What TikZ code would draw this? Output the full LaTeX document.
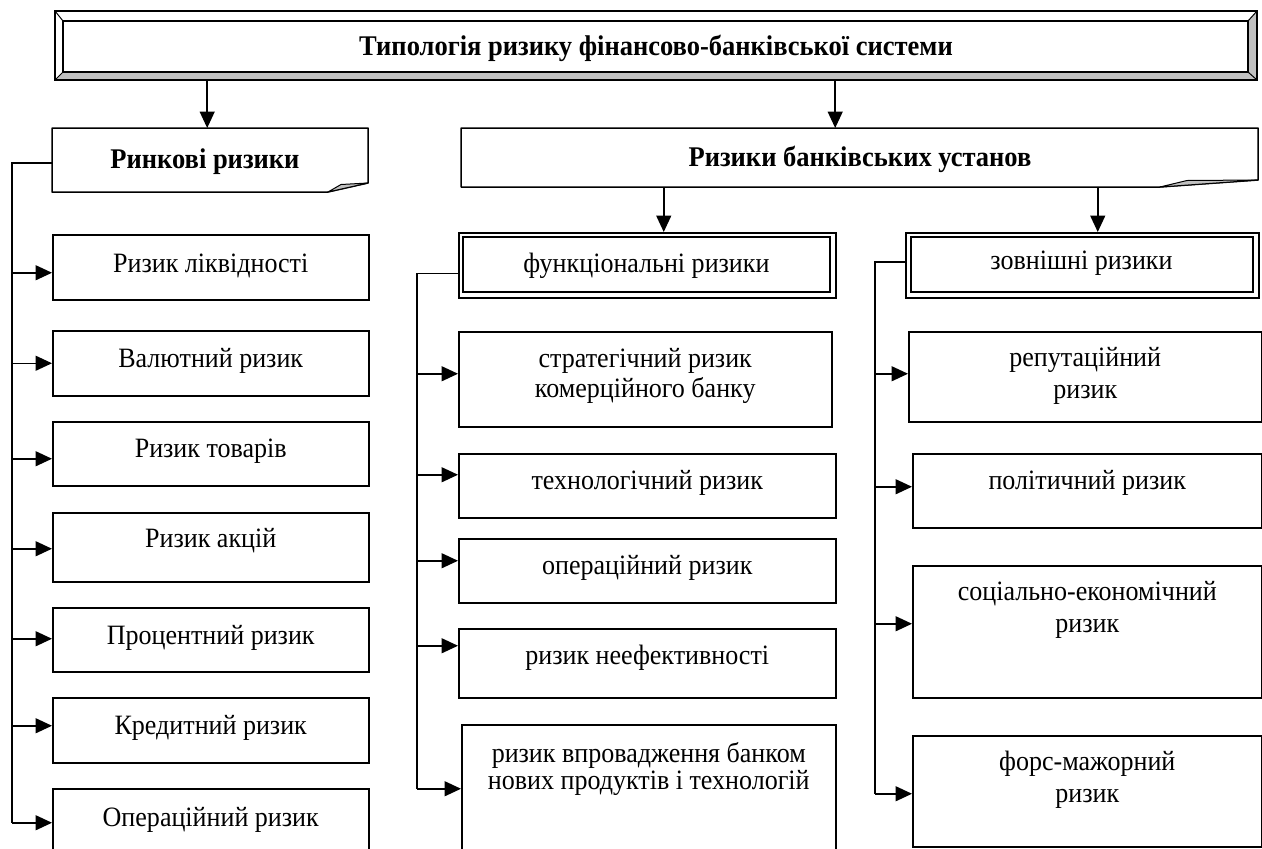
\documentclass[tikz,border=0pt]{standalone}
\usepackage{fontspec}
\setmainfont{Liberation Serif}[FakeStretch=0.93]
\usetikzlibrary{arrows.meta,calc}
\definecolor{bevel}{RGB}{192,192,192}
\begin{document}
\begin{tikzpicture}[x=1pt,y=-1pt,
  box/.style={draw, line width=1.5pt, rectangle, inner sep=0pt, anchor=north west},
  frame/.style={rectangle, inner sep=0pt, anchor=north west},
  txt/.style={font=\fontsize{28}{30}\selectfont, align=center, inner sep=0pt},
  btxt/.style={font=\fontsize{28.5}{32}\selectfont\bfseries, align=center, inner sep=0pt},
  ln/.style={line width=1.5pt},
  arr/.style={ln, -{Triangle[length=16.5pt,width=15pt]}},
  fold/.style={fill=bevel, draw, line width=1pt, line join=round}
]
\useasboundingbox (0,0) rectangle (1262,849);
\clip (0,0) rectangle (1262,849);

% ---------- title (bevelled box)
\node[frame, minimum width=1202pt, minimum height=69pt] (title) at (55,11) {};
\fill[bevel] (55,80) -- (1257,80) -- (1248,72) -- (63,72) -- cycle;
\fill[bevel] (1257,11) -- (1257,80) -- (1248,72) -- (1248,21) -- cycle;
\draw[ln] (55,11) rectangle (1257,80);
\draw[ln] (63,21) rectangle (1248,72);
\draw[line width=1pt] (55,11) -- (63,21) (1257,11) -- (1248,21) (55,80) -- (63,72) (1257,80) -- (1248,72);
\node[btxt] (title-t) at (656,48) {Типологія ризику фінансово-банківської системи};

% ---------- Ринкові ризики (dog-eared)
\node[frame, minimum width=316pt, minimum height=64pt] (rin) at (52,128) {};
\draw[ln, line join=round] (52,128) -- (368,128) -- (368,183) -- (328,192) -- (52,192) -- cycle;
\draw[fold] (328,192) -- (341,184.5) -- (368,183) -- cycle;
\node[btxt] (rin-t) at (205,162) {Ринкові ризики};

% ---------- Ризики банківських установ (dog-eared)
\node[frame, minimum width=797pt, minimum height=59pt] (bank) at (461,128) {};
\draw[ln, line join=round] (461,128) -- (1258,128) -- (1258,180) -- (1160,187) -- (461,187) -- cycle;
\draw[fold] (1160,187) -- (1187,180.5) -- (1258,180) -- cycle;
\node[btxt] (bank-t) at (860,159) {Ризики банківських установ};

% ---------- double-framed boxes
\node[box, minimum width=377pt, minimum height=65pt] (func) at (458,232) {};
\draw[line width=2.2pt] (463,237) rectangle (830,292);
\node[txt] (func-t) at (646.5,266) {функціональні ризики};

\node[box, minimum width=353pt, minimum height=65pt] (ext) at (905,232) {};
\draw[line width=2.2pt] (911,237) rectangle (1253,292);
\node[txt] (ext-t) at (1081.5,263) {зовнішні ризики};

% ---------- left column
\node[box, minimum width=316pt, minimum height=65pt] (r1) at (52,234) {};
\node[box, minimum width=316pt, minimum height=65pt] (r2) at (52,330) {};
\node[box, minimum width=316pt, minimum height=64pt] (r3) at (52,421) {};
\node[box, minimum width=316pt, minimum height=69pt] (r4) at (52,512) {};
\node[box, minimum width=316pt, minimum height=64pt] (r5) at (52,607) {};
\node[box, minimum width=316pt, minimum height=65pt] (r6) at (52,697) {};
\node[box, minimum width=316pt, minimum height=68pt] (r7) at (52,788) {};
\node[txt] (r1-t) at ([yshift=-32pt]r1.north) {Ризик ліквідності};
\node[txt] (r2-t) at ([yshift=-31pt]r2.north) {Валютний ризик};
\node[txt] (r3-t) at ([yshift=-30pt]r3.north) {Ризик товарів};
\node[txt] (r4-t) at ([yshift=-29pt]r4.north) {Ризик акцій};
\node[txt] (r5-t) at ([yshift=-31pt]r5.north) {Процентний ризик};
\node[txt] (r6-t) at ([yshift=-31pt]r6.north) {Кредитний ризик};
\node[txt] (r7-t) at ([yshift=-32pt]r7.north) {Операційний ризик};

% ---------- middle column
\node[box, minimum width=373pt, minimum height=95pt] (m1) at (458,331) {};
\node[box, minimum width=377pt, minimum height=64pt] (m2) at (458,453) {};
\node[box, minimum width=377pt, minimum height=64pt] (m3) at (458,538) {};
\node[box, minimum width=377pt, minimum height=69pt] (m4) at (458,628) {};
\node[box, minimum width=374pt, minimum height=146pt] (m5) at (461,724) {};
\node[txt] (m1-t) at ([yshift=-45pt]m1.north) {стратегічний ризик\\комерційного банку};
\node[txt] (m2-t) at ([yshift=-30pt]m2.north) {технологічний ризик};
\node[txt] (m3-t) at ([yshift=-30pt]m3.north) {операційний ризик};
\node[txt] (m4-t) at ([yshift=-30pt]m4.north) {ризик неефективності};
\node[txt, font=\fontsize{28}{24}\selectfont] (m5-t) at ([yshift=-45pt]m5.north) {ризик впровадження банком\\нових продуктів і технологій};

% ---------- right column
\node[box, minimum width=353pt, minimum height=90pt] (z1) at (908,331) {};
\node[box, minimum width=349pt, minimum height=74pt] (z2) at (912,453) {};
\node[box, minimum width=349pt, minimum height=132pt] (z3) at (912,565) {};
\node[box, minimum width=349pt, minimum height=111pt] (z4) at (912,735) {};
\node[txt, font=\fontsize{28}{32}\selectfont] (z1-t) at ([yshift=-45pt]z1.north) {репутаційний\\ризик};
\node[txt] (z2-t) at ([yshift=-30pt]z2.north) {політичний ризик};
\node[txt, font=\fontsize{28}{32}\selectfont] (z3-t) at ([yshift=-45pt]z3.north) {соціально-економічний\\ризик};
\node[txt, font=\fontsize{28}{32}\selectfont] (z4-t) at ([yshift=-45pt]z4.north) {форс-мажорний\\ризик};

% ---------- connectors
\coordinate (L) at (12,0);
\coordinate (M) at (417,0);
\coordinate (R) at (875,0);

\draw[arr] ([xshift=-3pt]rin.north |- title.south) -- ([xshift=-3pt]rin.north);
\draw[arr] ([xshift=-24.5pt]bank.north |- title.south) -- ([xshift=-24.5pt]bank.north);
\draw[arr] ([xshift=16.5pt]func.north |- bank.south) -- ([xshift=16.5pt]func.north);
\draw[arr] ([xshift=15.5pt]ext.north |- bank.south) -- ([xshift=15.5pt]ext.north);

\draw[ln] ([yshift=-3pt]rin.west) -- ([yshift=-3pt]rin.west -| L) -- (r7.west -| L);
\draw[arr] ([yshift=-5.5pt]r1.west -| L) -- ([yshift=-5.5pt]r1.west);
\draw[arr] (r2.west -| L) -- (r2.west);
\draw[arr] ([yshift=-5pt]r3.west -| L) -- ([yshift=-5pt]r3.west);
\draw[arr] ([yshift=-1.5pt]r4.west -| L) -- ([yshift=-1.5pt]r4.west);
\draw[arr] ([yshift=1pt]r5.west -| L) -- ([yshift=1pt]r5.west);
\draw[arr] ([yshift=4.5pt]r6.west -| L) -- ([yshift=4.5pt]r6.west);
\draw[arr] (r7.west -| L) -- (r7.west);

\draw[ln] ([yshift=-8pt]func.west) -- ([yshift=-8pt]func.west -| M) -- ([yshift=9pt]m5.west -| M);
\draw[arr] ([yshift=5.5pt]m1.west -| M) -- ([yshift=5.5pt]m1.west);
\draw[arr] ([yshift=11pt]m2.west -| M) -- ([yshift=11pt]m2.west);
\draw[arr] ([yshift=10pt]m3.west -| M) -- ([yshift=10pt]m3.west);
\draw[arr] ([yshift=17.5pt]m4.west -| M) -- ([yshift=17.5pt]m4.west);
\draw[arr] ([yshift=9pt]m5.west -| M) -- ([yshift=9pt]m5.west);

\draw[ln] ([yshift=3.5pt]ext.west) -- ([yshift=3.5pt]ext.west -| R) -- ([yshift=-2.5pt]z4.west -| R);
\draw[arr] ([yshift=3pt]z1.west -| R) -- ([yshift=3pt]z1.west);
\draw[arr] ([yshift=4pt]z2.west -| R) -- ([yshift=4pt]z2.west);
\draw[arr] ([yshift=8pt]z3.west -| R) -- ([yshift=8pt]z3.west);
\draw[arr] ([yshift=-2.5pt]z4.west -| R) -- ([yshift=-2.5pt]z4.west);
\end{tikzpicture}
\end{document}
